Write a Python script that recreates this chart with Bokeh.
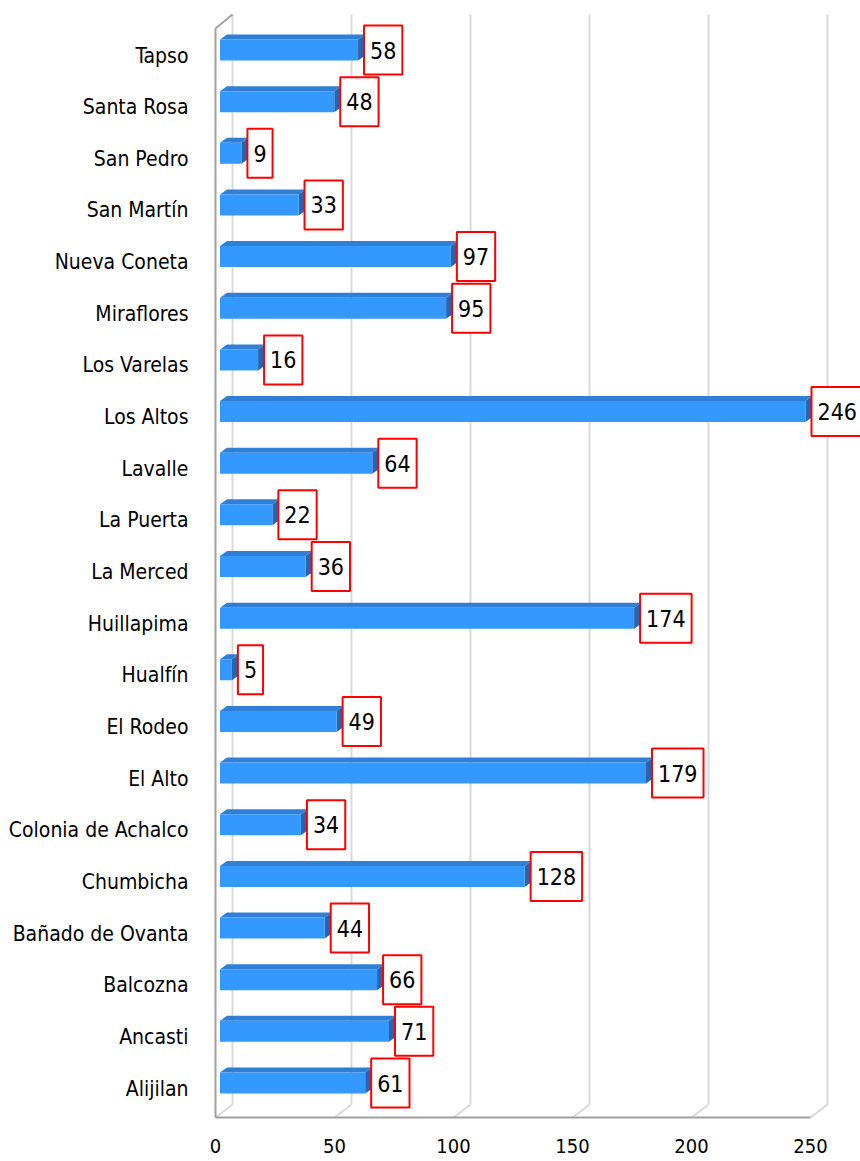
from bokeh.plotting import figure
from bokeh.models import Range1d, ColumnDataSource
from bokeh.core.properties import value
from bokeh.embed import file_html
from bokeh.resources import INLINE

categories = ["Tapso", "Santa Rosa", "San Pedro", "San Martín", "Nueva Coneta", "Miraflores",
              "Los Varelas", "Los Altos", "Lavalle", "La Puerta", "La Merced", "Huillapima",
              "Hualfín", "El Rodeo", "El Alto", "Colonia de Achalco", "Chumbicha",
              "Bañado de Ovanta", "Balcozna", "Ancasti", "Alijilan"]
values = [58, 48, 9, 33, 97, 95, 16, 246, 64, 22, 36, 174, 5, 49, 179, 34, 128, 44, 66, 71, 61]
ticks = [0, 50, 100, 150, 200, 250]

FONT = "DejaVu Sans Condensed"

OFF = 0            # page offset of the figure
SX = 2.38          # px per value unit
SY = 51.65         # px per category
W, H = 860, 1161
xmin = -(215 - OFF) / SX
xmax = xmin + W / SX
ymax = (1088 - OFF) / SY
ymin = ymax - H / SY
floor_y = ymax - (1117 - OFF) / SY
top_y = ymax - (28 - OFF) / SY
back_top = ymax - (14 - OFF) / SY
DX = 17 / SX       # wall depth
DY = 13 / SY
BX0 = 4.5 / SX     # bar plane start
BDX = 7 / SX       # bar depth
BDY = 5 / SY
BH = 21 / SY       # bar face height
BOFF = 5.5 / SY

p = figure(width=W, height=H, x_range=Range1d(xmin, xmax), y_range=Range1d(ymin, ymax),
           output_backend="svg", toolbar_location=None, min_border=0)
p.axis.visible = False
p.grid.visible = False
p.outline_line_color = None
p.background_fill_color = "white"

n = len(categories)
ks = [n - 1 - i for i in range(n)]

# back wall gridlines + floor diagonals
p.multi_line([[t + DX, t + DX] for t in ticks], [[floor_y + DY, back_top] for t in ticks],
             line_color="#D9D9D9", line_width=2)
p.multi_line([[t, t + DX] for t in ticks], [[floor_y, floor_y + DY] for t in ticks],
             line_color="#D9D9D9", line_width=2)
# left wall
p.line([0, 0], [floor_y, top_y], line_color="#A0A0A0", line_width=2)
p.line([0, DX], [top_y, back_top], line_color="#A0A0A0", line_width=2)
# floor front line
p.line([0, ticks[-1]], [floor_y, floor_y], line_color="#A0A0A0", line_width=2)

# bars
x0 = [BX0] * n
x1 = [BX0 + v for v in values]
yc = [k + BOFF for k in ks]
ytop = [y + BH / 2 for y in yc]
ybot = [y - BH / 2 for y in yc]

top_xs = [[a, b, b + BDX, a + BDX] for a, b in zip(x0, x1)]
top_ys = [[t, t, t + BDY, t + BDY] for t in ytop]
side_xs = [[b, b + BDX, b + BDX, b] for b in x1]
side_ys = [[t, t + BDY, bb + BDY, bb] for t, bb in zip(ytop, ybot)]
p.patches(top_xs, top_ys, fill_color="#2F7FD6", line_color=None)
p.patches(side_xs, side_ys, fill_color="#2765B0", line_color=None)
p.hbar(y=yc, left=x0, right=x1, height=BH, fill_color="#3399FF", line_color=None)

# value labels
lab = ColumnDataSource(dict(x=[b + BDX - 1 / SX for b in x1], y=yc, t=[str(v) for v in values]))
p.text(x="x", y="y", text="t", source=lab, text_font=value(FONT), text_font_size="23px",
       text_color="black", text_align="left", text_baseline="middle",
       background_fill_color="white", border_line_color="#FF0000", border_line_width=2,
       padding=(6, 16))

# category labels
cat = ColumnDataSource(dict(x=[-27 / SX] * n, y=ks, t=categories))
p.text(x="x", y="y", text="t", source=cat, text_font=value(FONT), text_font_size="21px",
       text_color="black", text_align="right", text_baseline="middle")

# tick labels
tk = ColumnDataSource(dict(x=ticks, y=[ymax - (1145 - OFF) / SY] * len(ticks), t=[str(t) for t in ticks]))
p.text(x="x", y="y", text="t", source=tk, text_font=value(FONT), text_font_size="20px",
       text_color="black", text_align="center", text_baseline="middle")

open("out.html", "w").write(file_html(p, INLINE))
